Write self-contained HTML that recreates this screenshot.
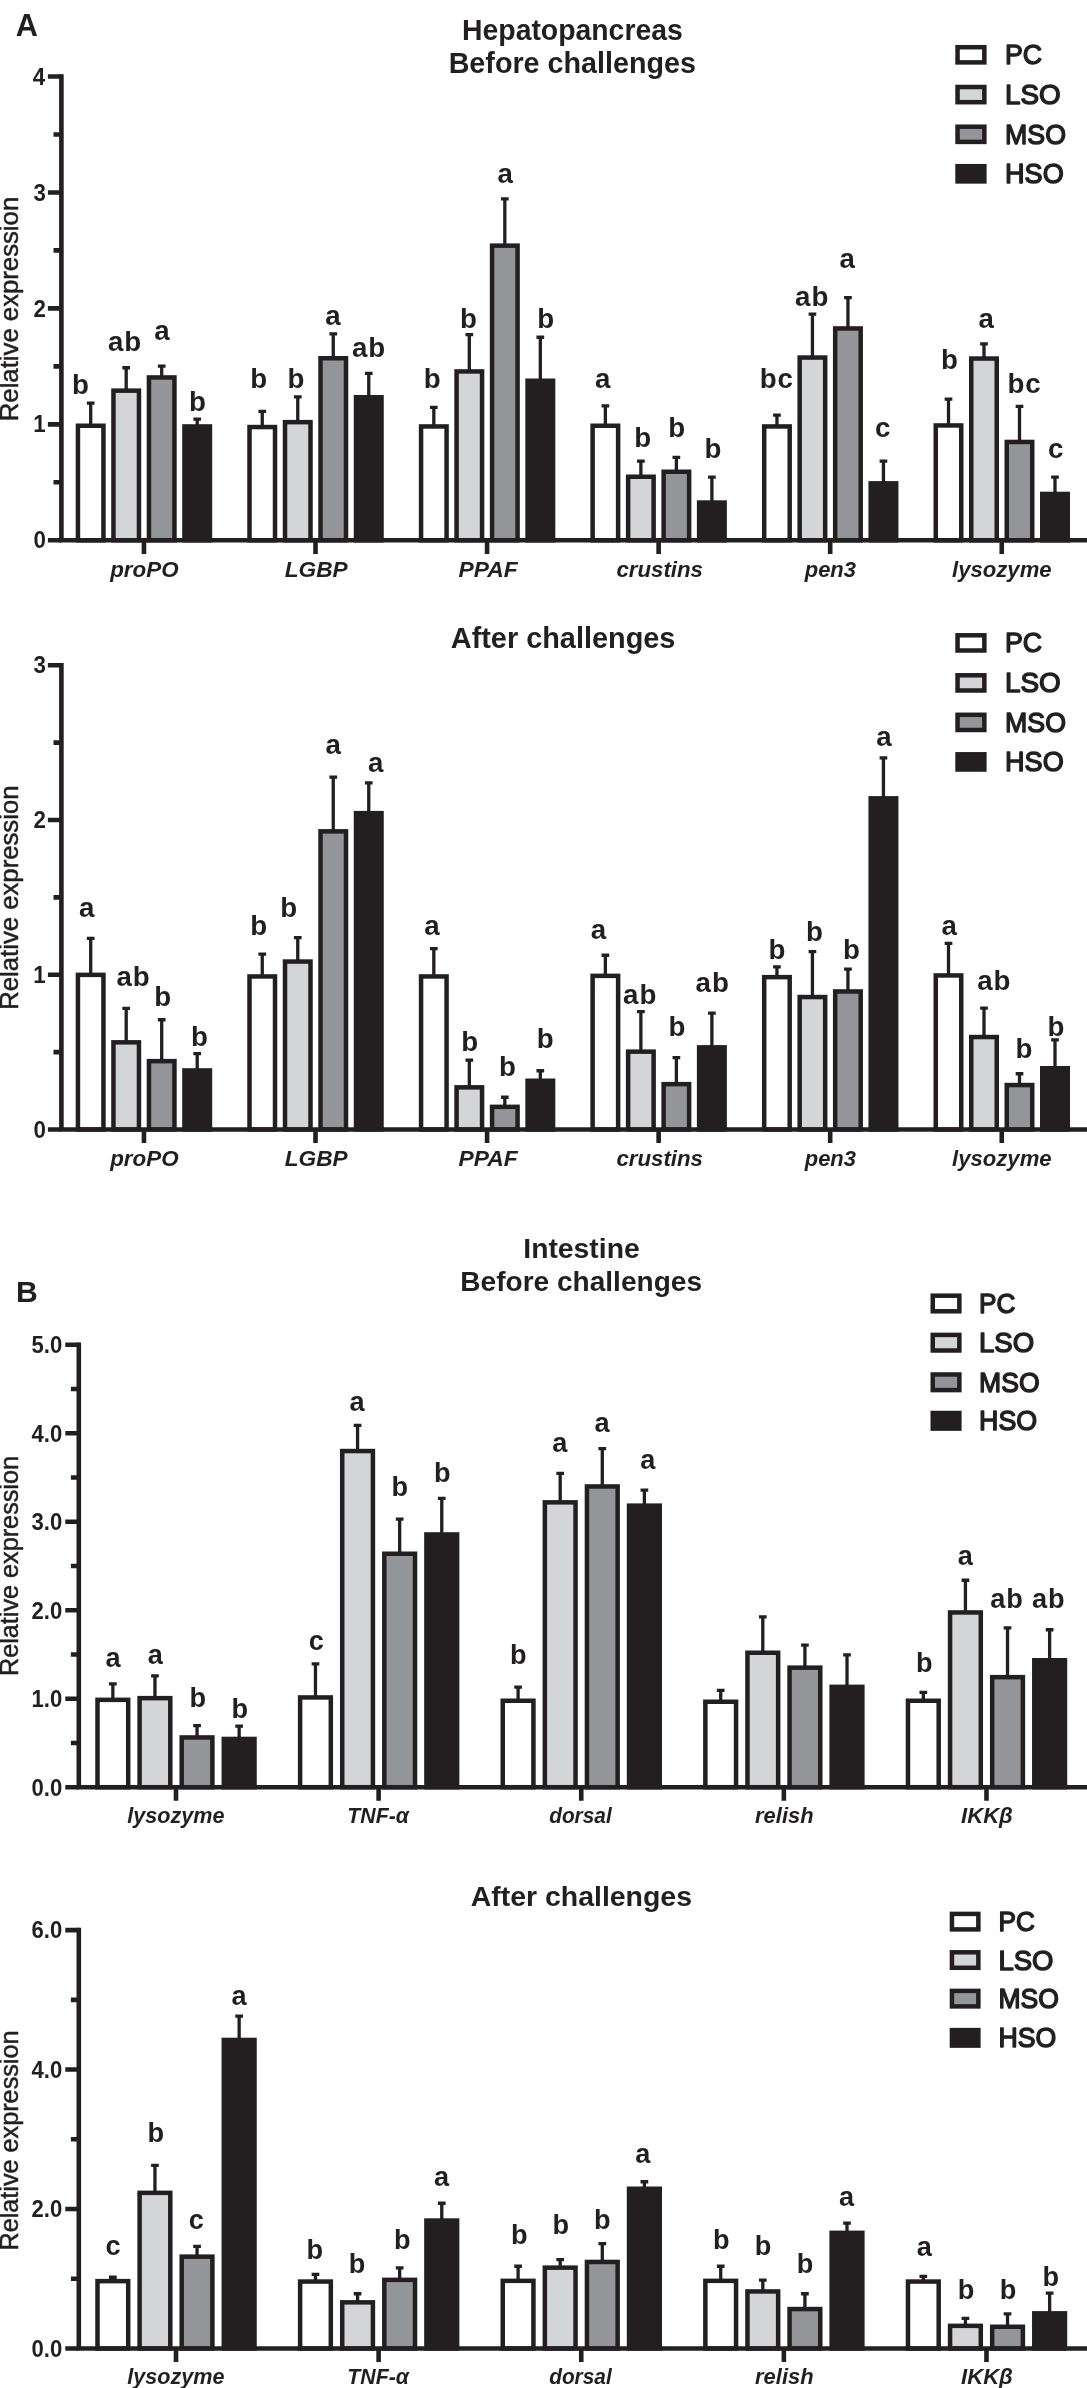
<!DOCTYPE html>
<html><head><meta charset="utf-8"><title>Relative expression</title>
<style>
html,body{margin:0;padding:0;background:#fff;}
body{width:1087px;height:2388px;overflow:hidden;}
svg{display:block;will-change:transform;}
svg text{font-family:"Liberation Sans",sans-serif;fill:#231f20;}
</style></head><body>
<svg width="1087" height="2388" viewBox="0 0 1087 2388">
<rect x="0" y="0" width="1087" height="2388" fill="#ffffff"/>
<g>
<path d="M90.7 425.5V403.15M86.85 403.15H94.55" fill="none" stroke="#231f20" stroke-width="3.3"/>
<rect x="77.95" y="425.75" width="25.5" height="114.55" fill="#ffffff" stroke="#231f20" stroke-width="4.5"/>
<text x="80.5" y="393.5" font-size="27.7" font-weight="bold" text-anchor="middle">b</text>
<path d="M126.2 390.4V367.75M122.35 367.75H130.05" fill="none" stroke="#231f20" stroke-width="3.3"/>
<rect x="113.45" y="390.65" width="25.5" height="149.65" fill="#d4d5d7" stroke="#231f20" stroke-width="4.5"/>
<text x="125.05" y="350.5" font-size="27.7" font-weight="bold" text-anchor="middle" letter-spacing="0.9">ab</text>
<path d="M161.7 377.2V366.05M157.85 366.05H165.55" fill="none" stroke="#231f20" stroke-width="3.3"/>
<rect x="148.95" y="377.45" width="25.5" height="162.85" fill="#939598" stroke="#231f20" stroke-width="4.5"/>
<text x="162" y="339.5" font-size="27.7" font-weight="bold" text-anchor="middle">a</text>
<path d="M197.2 426.2V419.05M193.35 419.05H201.05" fill="none" stroke="#231f20" stroke-width="3.3"/>
<rect x="184.45" y="426.45" width="25.5" height="113.85" fill="#231f20" stroke="#231f20" stroke-width="4.5"/>
<text x="197.4" y="410.8" font-size="27.7" font-weight="bold" text-anchor="middle">b</text>
<path d="M262.26 426.8V411.45M258.41 411.45H266.11" fill="none" stroke="#231f20" stroke-width="3.3"/>
<rect x="249.51" y="427.05" width="25.5" height="113.25" fill="#ffffff" stroke="#231f20" stroke-width="4.5"/>
<text x="258.6" y="387.6" font-size="27.7" font-weight="bold" text-anchor="middle">b</text>
<path d="M297.76 421.9V396.85M293.91 396.85H301.61" fill="none" stroke="#231f20" stroke-width="3.3"/>
<rect x="285.01" y="422.15" width="25.5" height="118.15" fill="#d4d5d7" stroke="#231f20" stroke-width="4.5"/>
<text x="296" y="387.6" font-size="27.7" font-weight="bold" text-anchor="middle">b</text>
<path d="M333.26 358V333.95M329.41 333.95H337.11" fill="none" stroke="#231f20" stroke-width="3.3"/>
<rect x="320.51" y="358.25" width="25.5" height="182.05" fill="#939598" stroke="#231f20" stroke-width="4.5"/>
<text x="333" y="325.3" font-size="27.7" font-weight="bold" text-anchor="middle">a</text>
<path d="M368.76 397V373.35M364.91 373.35H372.61" fill="none" stroke="#231f20" stroke-width="3.3"/>
<rect x="356.01" y="397.25" width="25.5" height="143.05" fill="#231f20" stroke="#231f20" stroke-width="4.5"/>
<text x="369.05" y="356.8" font-size="27.7" font-weight="bold" text-anchor="middle" letter-spacing="0.9">ab</text>
<path d="M433.82 426.2V407.45M429.97 407.45H437.67" fill="none" stroke="#231f20" stroke-width="3.3"/>
<rect x="421.07" y="426.45" width="25.5" height="113.85" fill="#ffffff" stroke="#231f20" stroke-width="4.5"/>
<text x="432.1" y="387.6" font-size="27.7" font-weight="bold" text-anchor="middle">b</text>
<path d="M469.32 371.2V334.65M465.47 334.65H473.17" fill="none" stroke="#231f20" stroke-width="3.3"/>
<rect x="456.57" y="371.45" width="25.5" height="168.85" fill="#d4d5d7" stroke="#231f20" stroke-width="4.5"/>
<text x="468.5" y="328" font-size="27.7" font-weight="bold" text-anchor="middle">b</text>
<path d="M504.82 245.4V198.85M500.97 198.85H508.67" fill="none" stroke="#231f20" stroke-width="3.3"/>
<rect x="492.07" y="245.65" width="25.5" height="294.65" fill="#939598" stroke="#231f20" stroke-width="4.5"/>
<text x="505.3" y="182.9" font-size="27.7" font-weight="bold" text-anchor="middle">a</text>
<path d="M540.32 380.5V337.25M536.47 337.25H544.17" fill="none" stroke="#231f20" stroke-width="3.3"/>
<rect x="527.57" y="380.75" width="25.5" height="159.55" fill="#231f20" stroke="#231f20" stroke-width="4.5"/>
<text x="545.7" y="328" font-size="27.7" font-weight="bold" text-anchor="middle">b</text>
<path d="M605.38 425.5V405.85M601.53 405.85H609.23" fill="none" stroke="#231f20" stroke-width="3.3"/>
<rect x="592.63" y="425.75" width="25.5" height="114.55" fill="#ffffff" stroke="#231f20" stroke-width="4.5"/>
<text x="602.6" y="387.6" font-size="27.7" font-weight="bold" text-anchor="middle">a</text>
<path d="M640.88 476.5V461.15M637.03 461.15H644.73" fill="none" stroke="#231f20" stroke-width="3.3"/>
<rect x="628.13" y="476.75" width="25.5" height="63.55" fill="#d4d5d7" stroke="#231f20" stroke-width="4.5"/>
<text x="642.7" y="446.5" font-size="27.7" font-weight="bold" text-anchor="middle">b</text>
<path d="M676.38 471.5V457.45M672.53 457.45H680.23" fill="none" stroke="#231f20" stroke-width="3.3"/>
<rect x="663.63" y="471.75" width="25.5" height="68.55" fill="#939598" stroke="#231f20" stroke-width="4.5"/>
<text x="676.8" y="436.6" font-size="27.7" font-weight="bold" text-anchor="middle">b</text>
<path d="M711.88 502.3V477.05M708.03 477.05H715.73" fill="none" stroke="#231f20" stroke-width="3.3"/>
<rect x="699.13" y="502.55" width="25.5" height="37.75" fill="#231f20" stroke="#231f20" stroke-width="4.5"/>
<text x="712.9" y="458.1" font-size="27.7" font-weight="bold" text-anchor="middle">b</text>
<path d="M776.94 426.2V415.05M773.09 415.05H780.79" fill="none" stroke="#231f20" stroke-width="3.3"/>
<rect x="764.19" y="426.45" width="25.5" height="113.85" fill="#ffffff" stroke="#231f20" stroke-width="4.5"/>
<text x="776.85" y="387.6" font-size="27.7" font-weight="bold" text-anchor="middle" letter-spacing="0.9">bc</text>
<path d="M812.44 357.3V314.05M808.59 314.05H816.29" fill="none" stroke="#231f20" stroke-width="3.3"/>
<rect x="799.69" y="357.55" width="25.5" height="182.75" fill="#d4d5d7" stroke="#231f20" stroke-width="4.5"/>
<text x="812.15" y="305.8" font-size="27.7" font-weight="bold" text-anchor="middle" letter-spacing="0.9">ab</text>
<path d="M847.94 328.2V297.55M844.09 297.55H851.79" fill="none" stroke="#231f20" stroke-width="3.3"/>
<rect x="835.19" y="328.45" width="25.5" height="211.85" fill="#939598" stroke="#231f20" stroke-width="4.5"/>
<text x="847.2" y="268.3" font-size="27.7" font-weight="bold" text-anchor="middle">a</text>
<path d="M883.44 483.1V461.15M879.59 461.15H887.29" fill="none" stroke="#231f20" stroke-width="3.3"/>
<rect x="870.69" y="483.35" width="25.5" height="56.95" fill="#231f20" stroke="#231f20" stroke-width="4.5"/>
<text x="882.6" y="436.6" font-size="27.7" font-weight="bold" text-anchor="middle">c</text>
<path d="M948.5 425.2V399.15M944.65 399.15H952.35" fill="none" stroke="#231f20" stroke-width="3.3"/>
<rect x="935.75" y="425.45" width="25.5" height="114.85" fill="#ffffff" stroke="#231f20" stroke-width="4.5"/>
<text x="949.5" y="369.3" font-size="27.7" font-weight="bold" text-anchor="middle">b</text>
<path d="M984 358.3V343.85M980.15 343.85H987.85" fill="none" stroke="#231f20" stroke-width="3.3"/>
<rect x="971.25" y="358.55" width="25.5" height="181.75" fill="#d4d5d7" stroke="#231f20" stroke-width="4.5"/>
<text x="986.3" y="328" font-size="27.7" font-weight="bold" text-anchor="middle">a</text>
<path d="M1019.5 441.7V406.45M1015.65 406.45H1023.35" fill="none" stroke="#231f20" stroke-width="3.3"/>
<rect x="1006.75" y="441.95" width="25.5" height="98.35" fill="#939598" stroke="#231f20" stroke-width="4.5"/>
<text x="1024.55" y="392.5" font-size="27.7" font-weight="bold" text-anchor="middle" letter-spacing="0.9">bc</text>
<path d="M1055 493.7V477.05M1051.15 477.05H1058.85" fill="none" stroke="#231f20" stroke-width="3.3"/>
<rect x="1042.25" y="493.95" width="25.5" height="46.35" fill="#231f20" stroke="#231f20" stroke-width="4.5"/>
<text x="1055.8" y="458.1" font-size="27.7" font-weight="bold" text-anchor="middle">c</text>
<path d="M61.4 74.2V540.3H1087" fill="none" stroke="#231f20" stroke-width="4.6"/>
<text transform="translate(33.49 548.44) scale(0.9550 1)" font-size="23.4" font-weight="bold">0</text>
<text transform="translate(33.16 432.49) scale(0.9550 1)" font-size="23.4" font-weight="bold">1</text>
<text transform="translate(33.49 316.54) scale(0.9550 1)" font-size="23.4" font-weight="bold">2</text>
<text transform="translate(33.38 200.59) scale(0.9550 1)" font-size="23.4" font-weight="bold">3</text>
<text transform="translate(32.71 84.64) scale(0.9550 1)" font-size="23.4" font-weight="bold">4</text>
<path d="M61.4 540.3H47.9M61.4 482.32H53.5M61.4 424.35H47.9M61.4 366.38H53.5M61.4 308.4H47.9M61.4 250.42H53.5M61.4 192.45H47.9M61.4 134.48H53.5M61.4 76.5H47.9M143.95 540.3V553.9M315.51 540.3V553.9M487.07 540.3V553.9M658.63 540.3V553.9M830.19 540.3V553.9M1001.75 540.3V553.9" fill="none" stroke="#231f20" stroke-width="4.6"/>
<text transform="translate(110.15 577.2) scale(1.0175 1)" font-size="22" font-weight="bold" font-style="italic">proPO</text>
<text transform="translate(284.75 577.2) scale(1.0310 1)" font-size="22" font-weight="bold" font-style="italic">LGBP</text>
<text transform="translate(458.44 577.2) scale(1.0372 1)" font-size="22" font-weight="bold" font-style="italic">PPAF</text>
<text transform="translate(616.43 577.2) scale(1.0113 1)" font-size="22" font-weight="bold" font-style="italic">crustins</text>
<text transform="translate(804.74 577.2) scale(0.9983 1)" font-size="22" font-weight="bold" font-style="italic">pen3</text>
<text transform="translate(952.07 577.2) scale(1.0049 1)" font-size="22" font-weight="bold" font-style="italic">lysozyme</text>
<text transform="translate(17.5 308.75) rotate(-90) translate(-112.46 0) scale(1.0132 1)" font-size="25.4" font-weight="normal" stroke="#231f20" stroke-width="0.5">Relative expression</text>
<text transform="translate(462.06 39.5) scale(0.9819 1)" font-size="28.9" font-weight="bold">Hepatopancreas</text>
<text transform="translate(448.63 72.6) scale(0.9941 1)" font-size="28.9" font-weight="bold">Before challenges</text>
<rect x="957.55" y="47.2" width="26.8" height="15.2" fill="#ffffff" stroke="#231f20" stroke-width="4.5"/>
<text transform="translate(1005.06 64.2) scale(0.9671 1)" font-size="27.6" font-weight="normal" stroke="#231f20" stroke-width="1.4" stroke-linejoin="round">PC</text>
<rect x="957.55" y="87" width="26.8" height="15.2" fill="#d4d5d7" stroke="#231f20" stroke-width="4.5"/>
<text transform="translate(1004.97 104) scale(1.0106 1)" font-size="27.6" font-weight="normal" stroke="#231f20" stroke-width="1.4" stroke-linejoin="round">LSO</text>
<rect x="957.55" y="126.7" width="26.8" height="15.2" fill="#939598" stroke="#231f20" stroke-width="4.5"/>
<text transform="translate(1005.06 143.7) scale(0.9690 1)" font-size="27.6" font-weight="normal" stroke="#231f20" stroke-width="1.4" stroke-linejoin="round">MSO</text>
<rect x="957.55" y="166.2" width="26.8" height="15.2" fill="#231f20" stroke="#231f20" stroke-width="4.5"/>
<text transform="translate(1005.04 183.2) scale(0.9804 1)" font-size="27.6" font-weight="normal" stroke="#231f20" stroke-width="1.4" stroke-linejoin="round">HSO</text>
</g>
<g>
<path d="M90.7 974.6V938.35M86.85 938.35H94.55" fill="none" stroke="#231f20" stroke-width="3.3"/>
<rect x="77.95" y="974.85" width="25.5" height="154.65" fill="#ffffff" stroke="#231f20" stroke-width="4.5"/>
<text x="86.8" y="917.1" font-size="27.7" font-weight="bold" text-anchor="middle">a</text>
<path d="M126.2 1042.1V1008.45M122.35 1008.45H130.05" fill="none" stroke="#231f20" stroke-width="3.3"/>
<rect x="113.45" y="1042.35" width="25.5" height="87.15" fill="#d4d5d7" stroke="#231f20" stroke-width="4.5"/>
<text x="133.45" y="985.9" font-size="27.7" font-weight="bold" text-anchor="middle" letter-spacing="0.9">ab</text>
<path d="M161.7 1060.9V1019.75M157.85 1019.75H165.55" fill="none" stroke="#231f20" stroke-width="3.3"/>
<rect x="148.95" y="1061.15" width="25.5" height="68.35" fill="#939598" stroke="#231f20" stroke-width="4.5"/>
<text x="162.7" y="1006.4" font-size="27.7" font-weight="bold" text-anchor="middle">b</text>
<path d="M197.2 1070.2V1053.55M193.35 1053.55H201.05" fill="none" stroke="#231f20" stroke-width="3.3"/>
<rect x="184.45" y="1070.45" width="25.5" height="59.05" fill="#231f20" stroke="#231f20" stroke-width="4.5"/>
<text x="199.4" y="1045.9" font-size="27.7" font-weight="bold" text-anchor="middle">b</text>
<path d="M262.26 976.2V954.15M258.41 954.15H266.11" fill="none" stroke="#231f20" stroke-width="3.3"/>
<rect x="249.51" y="976.45" width="25.5" height="153.05" fill="#ffffff" stroke="#231f20" stroke-width="4.5"/>
<text x="258.8" y="935.2" font-size="27.7" font-weight="bold" text-anchor="middle">b</text>
<path d="M297.76 961.3V937.65M293.91 937.65H301.61" fill="none" stroke="#231f20" stroke-width="3.3"/>
<rect x="285.01" y="961.55" width="25.5" height="167.95" fill="#d4d5d7" stroke="#231f20" stroke-width="4.5"/>
<text x="288.6" y="917" font-size="27.7" font-weight="bold" text-anchor="middle">b</text>
<path d="M333.26 831.1V777.05M329.41 777.05H337.11" fill="none" stroke="#231f20" stroke-width="3.3"/>
<rect x="320.51" y="831.35" width="25.5" height="298.15" fill="#939598" stroke="#231f20" stroke-width="4.5"/>
<text x="333.3" y="753.8" font-size="27.7" font-weight="bold" text-anchor="middle">a</text>
<path d="M368.76 812.9V782.95M364.91 782.95H372.61" fill="none" stroke="#231f20" stroke-width="3.3"/>
<rect x="356.01" y="813.15" width="25.5" height="316.35" fill="#231f20" stroke="#231f20" stroke-width="4.5"/>
<text x="375.7" y="772" font-size="27.7" font-weight="bold" text-anchor="middle">a</text>
<path d="M433.82 976.2V948.55M429.97 948.55H437.67" fill="none" stroke="#231f20" stroke-width="3.3"/>
<rect x="421.07" y="976.45" width="25.5" height="153.05" fill="#ffffff" stroke="#231f20" stroke-width="4.5"/>
<text x="432" y="935.2" font-size="27.7" font-weight="bold" text-anchor="middle">a</text>
<path d="M469.32 1087.1V1060.15M465.47 1060.15H473.17" fill="none" stroke="#231f20" stroke-width="3.3"/>
<rect x="456.57" y="1087.35" width="25.5" height="42.15" fill="#d4d5d7" stroke="#231f20" stroke-width="4.5"/>
<text x="469.7" y="1051.1" font-size="27.7" font-weight="bold" text-anchor="middle">b</text>
<path d="M504.82 1106.6V1097.25M500.97 1097.25H508.67" fill="none" stroke="#231f20" stroke-width="3.3"/>
<rect x="492.07" y="1106.85" width="25.5" height="22.65" fill="#939598" stroke="#231f20" stroke-width="4.5"/>
<text x="507.5" y="1076" font-size="27.7" font-weight="bold" text-anchor="middle">b</text>
<path d="M540.32 1080.5V1070.75M536.47 1070.75H544.17" fill="none" stroke="#231f20" stroke-width="3.3"/>
<rect x="527.57" y="1080.75" width="25.5" height="48.75" fill="#231f20" stroke="#231f20" stroke-width="4.5"/>
<text x="545.2" y="1047.8" font-size="27.7" font-weight="bold" text-anchor="middle">b</text>
<path d="M605.38 975.6V955.25M601.53 955.25H609.23" fill="none" stroke="#231f20" stroke-width="3.3"/>
<rect x="592.63" y="975.85" width="25.5" height="153.65" fill="#ffffff" stroke="#231f20" stroke-width="4.5"/>
<text x="598.5" y="938.6" font-size="27.7" font-weight="bold" text-anchor="middle">a</text>
<path d="M640.88 1051.4V1011.55M637.03 1011.55H644.73" fill="none" stroke="#231f20" stroke-width="3.3"/>
<rect x="628.13" y="1051.65" width="25.5" height="77.85" fill="#d4d5d7" stroke="#231f20" stroke-width="4.5"/>
<text x="640.15" y="1003.9" font-size="27.7" font-weight="bold" text-anchor="middle" letter-spacing="0.9">ab</text>
<path d="M676.38 1083.9V1057.55M672.53 1057.55H680.23" fill="none" stroke="#231f20" stroke-width="3.3"/>
<rect x="663.63" y="1084.15" width="25.5" height="45.35" fill="#939598" stroke="#231f20" stroke-width="4.5"/>
<text x="677" y="1036.3" font-size="27.7" font-weight="bold" text-anchor="middle">b</text>
<path d="M711.88 1047.1V1013.15M708.03 1013.15H715.73" fill="none" stroke="#231f20" stroke-width="3.3"/>
<rect x="699.13" y="1047.35" width="25.5" height="82.15" fill="#231f20" stroke="#231f20" stroke-width="4.5"/>
<text x="712.65" y="991.6" font-size="27.7" font-weight="bold" text-anchor="middle" letter-spacing="0.9">ab</text>
<path d="M776.94 976.9V966.85M773.09 966.85H780.79" fill="none" stroke="#231f20" stroke-width="3.3"/>
<rect x="764.19" y="977.15" width="25.5" height="152.35" fill="#ffffff" stroke="#231f20" stroke-width="4.5"/>
<text x="777" y="959.2" font-size="27.7" font-weight="bold" text-anchor="middle">b</text>
<path d="M812.44 996.8V951.55M808.59 951.55H816.29" fill="none" stroke="#231f20" stroke-width="3.3"/>
<rect x="799.69" y="997.05" width="25.5" height="132.45" fill="#d4d5d7" stroke="#231f20" stroke-width="4.5"/>
<text x="814.4" y="940.9" font-size="27.7" font-weight="bold" text-anchor="middle">b</text>
<path d="M847.94 991.2V969.15M844.09 969.15H851.79" fill="none" stroke="#231f20" stroke-width="3.3"/>
<rect x="835.19" y="991.45" width="25.5" height="138.05" fill="#939598" stroke="#231f20" stroke-width="4.5"/>
<text x="851.5" y="959.2" font-size="27.7" font-weight="bold" text-anchor="middle">b</text>
<path d="M883.44 798.1V757.85M879.59 757.85H887.29" fill="none" stroke="#231f20" stroke-width="3.3"/>
<rect x="870.69" y="798.35" width="25.5" height="331.15" fill="#231f20" stroke="#231f20" stroke-width="4.5"/>
<text x="884" y="745.5" font-size="27.7" font-weight="bold" text-anchor="middle">a</text>
<path d="M948.5 975.2V943.45M944.65 943.45H952.35" fill="none" stroke="#231f20" stroke-width="3.3"/>
<rect x="935.75" y="975.45" width="25.5" height="154.05" fill="#ffffff" stroke="#231f20" stroke-width="4.5"/>
<text x="949.2" y="935.1" font-size="27.7" font-weight="bold" text-anchor="middle">a</text>
<path d="M984 1036.8V1008.05M980.15 1008.05H987.85" fill="none" stroke="#231f20" stroke-width="3.3"/>
<rect x="971.25" y="1037.05" width="25.5" height="92.45" fill="#d4d5d7" stroke="#231f20" stroke-width="4.5"/>
<text x="994.35" y="990.1" font-size="27.7" font-weight="bold" text-anchor="middle" letter-spacing="0.9">ab</text>
<path d="M1019.5 1084.8V1073.75M1015.65 1073.75H1023.35" fill="none" stroke="#231f20" stroke-width="3.3"/>
<rect x="1006.75" y="1085.05" width="25.5" height="44.45" fill="#939598" stroke="#231f20" stroke-width="4.5"/>
<text x="1024" y="1058" font-size="27.7" font-weight="bold" text-anchor="middle">b</text>
<path d="M1055 1068V1039.85M1051.15 1039.85H1058.85" fill="none" stroke="#231f20" stroke-width="3.3"/>
<rect x="1042.25" y="1068.25" width="25.5" height="61.25" fill="#231f20" stroke="#231f20" stroke-width="4.5"/>
<text x="1056" y="1035.6" font-size="27.7" font-weight="bold" text-anchor="middle">b</text>
<path d="M61.4 663V1129.5H1087" fill="none" stroke="#231f20" stroke-width="4.6"/>
<text transform="translate(33.49 1137.64) scale(0.9550 1)" font-size="23.4" font-weight="bold">0</text>
<text transform="translate(33.16 982.91) scale(0.9550 1)" font-size="23.4" font-weight="bold">1</text>
<text transform="translate(33.49 828.18) scale(0.9550 1)" font-size="23.4" font-weight="bold">2</text>
<text transform="translate(33.38 673.44) scale(0.9550 1)" font-size="23.4" font-weight="bold">3</text>
<path d="M61.4 1129.5H47.9M61.4 1052.13H53.5M61.4 974.77H47.9M61.4 897.4H53.5M61.4 820.03H47.9M61.4 742.67H53.5M61.4 665.3H47.9M143.95 1129.5V1143.1M315.51 1129.5V1143.1M487.07 1129.5V1143.1M658.63 1129.5V1143.1M830.19 1129.5V1143.1M1001.75 1129.5V1143.1" fill="none" stroke="#231f20" stroke-width="4.6"/>
<text transform="translate(110.15 1166.4) scale(1.0175 1)" font-size="22" font-weight="bold" font-style="italic">proPO</text>
<text transform="translate(284.75 1166.4) scale(1.0310 1)" font-size="22" font-weight="bold" font-style="italic">LGBP</text>
<text transform="translate(458.44 1166.4) scale(1.0372 1)" font-size="22" font-weight="bold" font-style="italic">PPAF</text>
<text transform="translate(616.43 1166.4) scale(1.0113 1)" font-size="22" font-weight="bold" font-style="italic">crustins</text>
<text transform="translate(804.74 1166.4) scale(0.9983 1)" font-size="22" font-weight="bold" font-style="italic">pen3</text>
<text transform="translate(952.07 1166.4) scale(1.0049 1)" font-size="22" font-weight="bold" font-style="italic">lysozyme</text>
<text transform="translate(17.5 897.4) rotate(-90) translate(-112.46 0) scale(1.0132 1)" font-size="25.4" font-weight="normal" stroke="#231f20" stroke-width="0.5">Relative expression</text>
<text transform="translate(450.78 648) scale(0.9997 1)" font-size="28.9" font-weight="bold">After challenges</text>
<rect x="957.55" y="635.3" width="26.8" height="15.2" fill="#ffffff" stroke="#231f20" stroke-width="4.5"/>
<text transform="translate(1005.06 652.3) scale(0.9671 1)" font-size="27.6" font-weight="normal" stroke="#231f20" stroke-width="1.4" stroke-linejoin="round">PC</text>
<rect x="957.55" y="675.3" width="26.8" height="15.2" fill="#d4d5d7" stroke="#231f20" stroke-width="4.5"/>
<text transform="translate(1004.97 692.3) scale(1.0106 1)" font-size="27.6" font-weight="normal" stroke="#231f20" stroke-width="1.4" stroke-linejoin="round">LSO</text>
<rect x="957.55" y="714.8" width="26.8" height="15.2" fill="#939598" stroke="#231f20" stroke-width="4.5"/>
<text transform="translate(1005.06 731.8) scale(0.9690 1)" font-size="27.6" font-weight="normal" stroke="#231f20" stroke-width="1.4" stroke-linejoin="round">MSO</text>
<rect x="957.55" y="754.3" width="26.8" height="15.2" fill="#231f20" stroke="#231f20" stroke-width="4.5"/>
<text transform="translate(1005.04 771.3) scale(0.9804 1)" font-size="27.6" font-weight="normal" stroke="#231f20" stroke-width="1.4" stroke-linejoin="round">HSO</text>
</g>
<g>
<path d="M112.85 1699.6V1683.95M109 1683.95H116.7" fill="none" stroke="#231f20" stroke-width="3.3"/>
<rect x="97.5" y="1699.85" width="30.7" height="87.35" fill="#ffffff" stroke="#231f20" stroke-width="4.5"/>
<text x="113.1" y="1667.1" font-size="27.15" font-weight="bold" text-anchor="middle">a</text>
<path d="M154.95 1697.9V1675.95M151.1 1675.95H158.8" fill="none" stroke="#231f20" stroke-width="3.3"/>
<rect x="139.6" y="1698.15" width="30.7" height="89.05" fill="#d4d5d7" stroke="#231f20" stroke-width="4.5"/>
<text x="155.2" y="1663.6" font-size="27.15" font-weight="bold" text-anchor="middle">a</text>
<path d="M197.05 1737.2V1725.55M193.2 1725.55H200.9" fill="none" stroke="#231f20" stroke-width="3.3"/>
<rect x="181.7" y="1737.45" width="30.7" height="49.75" fill="#939598" stroke="#231f20" stroke-width="4.5"/>
<text x="197.7" y="1706.6" font-size="27.15" font-weight="bold" text-anchor="middle">b</text>
<path d="M239.15 1738.7V1726.05M235.3 1726.05H243" fill="none" stroke="#231f20" stroke-width="3.3"/>
<rect x="223.8" y="1738.95" width="30.7" height="48.25" fill="#231f20" stroke="#231f20" stroke-width="4.5"/>
<text x="239.7" y="1717.9" font-size="27.15" font-weight="bold" text-anchor="middle">b</text>
<path d="M315.47 1697.2V1663.95M311.62 1663.95H319.32" fill="none" stroke="#231f20" stroke-width="3.3"/>
<rect x="300.12" y="1697.45" width="30.7" height="89.75" fill="#ffffff" stroke="#231f20" stroke-width="4.5"/>
<text x="316.3" y="1649.7" font-size="27.15" font-weight="bold" text-anchor="middle">c</text>
<path d="M357.57 1450.8V1425.45M353.72 1425.45H361.42" fill="none" stroke="#231f20" stroke-width="3.3"/>
<rect x="342.22" y="1451.05" width="30.7" height="336.15" fill="#d4d5d7" stroke="#231f20" stroke-width="4.5"/>
<text x="357" y="1410.5" font-size="27.15" font-weight="bold" text-anchor="middle">a</text>
<path d="M399.67 1553.5V1519.15M395.82 1519.15H403.52" fill="none" stroke="#231f20" stroke-width="3.3"/>
<rect x="384.32" y="1553.75" width="30.7" height="233.45" fill="#939598" stroke="#231f20" stroke-width="4.5"/>
<text x="399.8" y="1496.3" font-size="27.15" font-weight="bold" text-anchor="middle">b</text>
<path d="M441.77 1534.2V1498.35M437.92 1498.35H445.62" fill="none" stroke="#231f20" stroke-width="3.3"/>
<rect x="426.42" y="1534.45" width="30.7" height="252.75" fill="#231f20" stroke="#231f20" stroke-width="4.5"/>
<text x="442.2" y="1482.4" font-size="27.15" font-weight="bold" text-anchor="middle">b</text>
<path d="M518.09 1700.5V1687.15M514.24 1687.15H521.94" fill="none" stroke="#231f20" stroke-width="3.3"/>
<rect x="502.74" y="1700.75" width="30.7" height="86.45" fill="#ffffff" stroke="#231f20" stroke-width="4.5"/>
<text x="518.4" y="1663.6" font-size="27.15" font-weight="bold" text-anchor="middle">b</text>
<path d="M560.19 1502.1V1473.45M556.34 1473.45H564.04" fill="none" stroke="#231f20" stroke-width="3.3"/>
<rect x="544.84" y="1502.35" width="30.7" height="284.85" fill="#d4d5d7" stroke="#231f20" stroke-width="4.5"/>
<text x="559.8" y="1451.9" font-size="27.15" font-weight="bold" text-anchor="middle">a</text>
<path d="M602.29 1486.2V1448.65M598.44 1448.65H606.14" fill="none" stroke="#231f20" stroke-width="3.3"/>
<rect x="586.94" y="1486.45" width="30.7" height="300.75" fill="#939598" stroke="#231f20" stroke-width="4.5"/>
<text x="602.1" y="1432" font-size="27.15" font-weight="bold" text-anchor="middle">a</text>
<path d="M644.39 1505.4V1490.05M640.54 1490.05H648.24" fill="none" stroke="#231f20" stroke-width="3.3"/>
<rect x="629.04" y="1505.65" width="30.7" height="281.55" fill="#231f20" stroke="#231f20" stroke-width="4.5"/>
<text x="647.8" y="1468.5" font-size="27.15" font-weight="bold" text-anchor="middle">a</text>
<path d="M720.71 1701.5V1690.45M716.86 1690.45H724.56" fill="none" stroke="#231f20" stroke-width="3.3"/>
<rect x="705.36" y="1701.75" width="30.7" height="85.45" fill="#ffffff" stroke="#231f20" stroke-width="4.5"/>
<path d="M762.81 1652.5V1616.85M758.96 1616.85H766.66" fill="none" stroke="#231f20" stroke-width="3.3"/>
<rect x="747.46" y="1652.75" width="30.7" height="134.45" fill="#d4d5d7" stroke="#231f20" stroke-width="4.5"/>
<path d="M804.91 1667.4V1645.05M801.06 1645.05H808.76" fill="none" stroke="#231f20" stroke-width="3.3"/>
<rect x="789.56" y="1667.65" width="30.7" height="119.55" fill="#939598" stroke="#231f20" stroke-width="4.5"/>
<path d="M847.01 1686.6V1654.95M843.16 1654.95H850.86" fill="none" stroke="#231f20" stroke-width="3.3"/>
<rect x="831.66" y="1686.85" width="30.7" height="100.35" fill="#231f20" stroke="#231f20" stroke-width="4.5"/>
<path d="M923.33 1700.5V1692.35M919.48 1692.35H927.18" fill="none" stroke="#231f20" stroke-width="3.3"/>
<rect x="907.98" y="1700.75" width="30.7" height="86.45" fill="#ffffff" stroke="#231f20" stroke-width="4.5"/>
<text x="924.4" y="1671.5" font-size="27.15" font-weight="bold" text-anchor="middle">b</text>
<path d="M965.43 1612.2V1580.25M961.58 1580.25H969.28" fill="none" stroke="#231f20" stroke-width="3.3"/>
<rect x="950.08" y="1612.45" width="30.7" height="174.75" fill="#d4d5d7" stroke="#231f20" stroke-width="4.5"/>
<text x="965.2" y="1565.3" font-size="27.15" font-weight="bold" text-anchor="middle">a</text>
<path d="M1007.53 1676.9V1627.95M1003.68 1627.95H1011.38" fill="none" stroke="#231f20" stroke-width="3.3"/>
<rect x="992.18" y="1677.15" width="30.7" height="110.05" fill="#939598" stroke="#231f20" stroke-width="4.5"/>
<text x="1007.05" y="1608.3" font-size="27.15" font-weight="bold" text-anchor="middle" letter-spacing="0.9">ab</text>
<path d="M1049.63 1660V1629.75M1045.78 1629.75H1053.48" fill="none" stroke="#231f20" stroke-width="3.3"/>
<rect x="1034.28" y="1660.25" width="30.7" height="126.95" fill="#231f20" stroke="#231f20" stroke-width="4.5"/>
<text x="1048.85" y="1608.3" font-size="27.15" font-weight="bold" text-anchor="middle" letter-spacing="0.9">ab</text>
<path d="M78.8 1342.4V1787.2H1087" fill="none" stroke="#231f20" stroke-width="4.6"/>
<text transform="translate(31.55 1795.52) scale(0.9250 1)" font-size="23.9" font-weight="bold">0.0</text>
<text transform="translate(31.55 1707.02) scale(0.9250 1)" font-size="23.9" font-weight="bold">1.0</text>
<text transform="translate(31.55 1618.52) scale(0.9250 1)" font-size="23.9" font-weight="bold">2.0</text>
<text transform="translate(31.55 1530.02) scale(0.9250 1)" font-size="23.9" font-weight="bold">3.0</text>
<text transform="translate(31.55 1441.52) scale(0.9250 1)" font-size="23.9" font-weight="bold">4.0</text>
<text transform="translate(31.55 1353.02) scale(0.9250 1)" font-size="23.9" font-weight="bold">5.0</text>
<path d="M78.8 1787.2H65.3M78.8 1742.95H70.9M78.8 1698.7H65.3M78.8 1654.45H70.9M78.8 1610.2H65.3M78.8 1565.95H70.9M78.8 1521.7H65.3M78.8 1477.45H70.9M78.8 1433.2H65.3M78.8 1388.95H70.9M78.8 1344.7H65.3M176 1787.2V1800.8M378.62 1787.2V1800.8M581.24 1787.2V1800.8M783.86 1787.2V1800.8M986.48 1787.2V1800.8" fill="none" stroke="#231f20" stroke-width="4.6"/>
<text transform="translate(127.28 1823) scale(0.9480 1)" font-size="22.8" font-weight="bold" font-style="italic">lysozyme</text>
<text transform="translate(347.31 1823) scale(0.9339 1)" font-size="22.8" font-weight="bold" font-style="italic">TNF-&#945;</text>
<text transform="translate(549.17 1823) scale(0.9139 1)" font-size="22.8" font-weight="bold" font-style="italic">dorsal</text>
<text transform="translate(755.07 1823) scale(0.9629 1)" font-size="22.8" font-weight="bold" font-style="italic">relish</text>
<text transform="translate(961.06 1823) scale(0.9691 1)" font-size="22.8" font-weight="bold" font-style="italic">IKK&#946;</text>
<text transform="translate(17.5 1565.8) rotate(-90) translate(-110.2 0) scale(1.0131 1)" font-size="24.89" font-weight="normal" stroke="#231f20" stroke-width="0.5">Relative expression</text>
<text transform="translate(523.26 1258.1) scale(1.0003 1)" font-size="28.32" font-weight="bold">Intestine</text>
<text transform="translate(460.28 1290.5) scale(0.9912 1)" font-size="28.32" font-weight="bold">Before challenges</text>
<rect x="932.75" y="1295.7" width="26.6" height="15.6" fill="#ffffff" stroke="#231f20" stroke-width="4.5"/>
<text transform="translate(979.11 1313.1) scale(0.9665 1)" font-size="27.05" font-weight="normal" stroke="#231f20" stroke-width="1.4" stroke-linejoin="round">PC</text>
<rect x="932.75" y="1334.9" width="26.6" height="15.6" fill="#d4d5d7" stroke="#231f20" stroke-width="4.5"/>
<text transform="translate(978.99 1352.3) scale(1.0194 1)" font-size="27.05" font-weight="normal" stroke="#231f20" stroke-width="1.4" stroke-linejoin="round">LSO</text>
<rect x="932.75" y="1374.5" width="26.6" height="15.6" fill="#939598" stroke="#231f20" stroke-width="4.5"/>
<text transform="translate(979.07 1391.9) scale(0.9836 1)" font-size="27.05" font-weight="normal" stroke="#231f20" stroke-width="1.4" stroke-linejoin="round">MSO</text>
<rect x="932.75" y="1413" width="26.6" height="15.6" fill="#231f20" stroke="#231f20" stroke-width="4.5"/>
<text transform="translate(979.05 1430.4) scale(0.9913 1)" font-size="27.05" font-weight="normal" stroke="#231f20" stroke-width="1.4" stroke-linejoin="round">HSO</text>
</g>
<g>
<path d="M112.85 2280.9V2277.25M109 2277.25H116.7" fill="none" stroke="#231f20" stroke-width="3.3"/>
<rect x="97.5" y="2281.15" width="30.7" height="67.35" fill="#ffffff" stroke="#231f20" stroke-width="4.5"/>
<text x="113.1" y="2254.7" font-size="27.15" font-weight="bold" text-anchor="middle">c</text>
<path d="M154.95 2192.6V2165.45M151.1 2165.45H158.8" fill="none" stroke="#231f20" stroke-width="3.3"/>
<rect x="139.6" y="2192.85" width="30.7" height="155.65" fill="#d4d5d7" stroke="#231f20" stroke-width="4.5"/>
<text x="155.9" y="2141.5" font-size="27.15" font-weight="bold" text-anchor="middle">b</text>
<path d="M197.05 2256.4V2246.45M193.2 2246.45H200.9" fill="none" stroke="#231f20" stroke-width="3.3"/>
<rect x="181.7" y="2256.65" width="30.7" height="91.85" fill="#939598" stroke="#231f20" stroke-width="4.5"/>
<text x="196.4" y="2228.6" font-size="27.15" font-weight="bold" text-anchor="middle">c</text>
<path d="M239.15 2039.7V2016.05M235.3 2016.05H243" fill="none" stroke="#231f20" stroke-width="3.3"/>
<rect x="223.8" y="2039.95" width="30.7" height="308.55" fill="#231f20" stroke="#231f20" stroke-width="4.5"/>
<text x="239" y="2005.4" font-size="27.15" font-weight="bold" text-anchor="middle">a</text>
<path d="M315.47 2281.3V2274.45M311.62 2274.45H319.32" fill="none" stroke="#231f20" stroke-width="3.3"/>
<rect x="300.12" y="2281.55" width="30.7" height="66.95" fill="#ffffff" stroke="#231f20" stroke-width="4.5"/>
<text x="314.7" y="2258.6" font-size="27.15" font-weight="bold" text-anchor="middle">b</text>
<path d="M357.57 2302.1V2293.75M353.72 2293.75H361.42" fill="none" stroke="#231f20" stroke-width="3.3"/>
<rect x="342.22" y="2302.35" width="30.7" height="46.15" fill="#d4d5d7" stroke="#231f20" stroke-width="4.5"/>
<text x="357" y="2272.8" font-size="27.15" font-weight="bold" text-anchor="middle">b</text>
<path d="M399.67 2279.6V2267.85M395.82 2267.85H403.52" fill="none" stroke="#231f20" stroke-width="3.3"/>
<rect x="384.32" y="2279.85" width="30.7" height="68.65" fill="#939598" stroke="#231f20" stroke-width="4.5"/>
<text x="402.4" y="2248.7" font-size="27.15" font-weight="bold" text-anchor="middle">b</text>
<path d="M441.77 2220.3V2203.25M437.92 2203.25H445.62" fill="none" stroke="#231f20" stroke-width="3.3"/>
<rect x="426.42" y="2220.55" width="30.7" height="127.95" fill="#231f20" stroke="#231f20" stroke-width="4.5"/>
<text x="441.5" y="2185.7" font-size="27.15" font-weight="bold" text-anchor="middle">a</text>
<path d="M518.09 2280.6V2266.25M514.24 2266.25H521.94" fill="none" stroke="#231f20" stroke-width="3.3"/>
<rect x="502.74" y="2280.85" width="30.7" height="67.65" fill="#ffffff" stroke="#231f20" stroke-width="4.5"/>
<text x="519.4" y="2243.7" font-size="27.15" font-weight="bold" text-anchor="middle">b</text>
<path d="M560.19 2267.4V2259.55M556.34 2259.55H564.04" fill="none" stroke="#231f20" stroke-width="3.3"/>
<rect x="544.84" y="2267.65" width="30.7" height="80.85" fill="#d4d5d7" stroke="#231f20" stroke-width="4.5"/>
<text x="560.8" y="2233.7" font-size="27.15" font-weight="bold" text-anchor="middle">b</text>
<path d="M602.29 2261.7V2243.65M598.44 2243.65H606.14" fill="none" stroke="#231f20" stroke-width="3.3"/>
<rect x="586.94" y="2261.95" width="30.7" height="86.55" fill="#939598" stroke="#231f20" stroke-width="4.5"/>
<text x="602.2" y="2228.8" font-size="27.15" font-weight="bold" text-anchor="middle">b</text>
<path d="M644.39 2188.5V2181.75M640.54 2181.75H648.24" fill="none" stroke="#231f20" stroke-width="3.3"/>
<rect x="629.04" y="2188.75" width="30.7" height="159.75" fill="#231f20" stroke="#231f20" stroke-width="4.5"/>
<text x="642.8" y="2162.5" font-size="27.15" font-weight="bold" text-anchor="middle">a</text>
<path d="M720.71 2280.6V2266.25M716.86 2266.25H724.56" fill="none" stroke="#231f20" stroke-width="3.3"/>
<rect x="705.36" y="2280.85" width="30.7" height="67.65" fill="#ffffff" stroke="#231f20" stroke-width="4.5"/>
<text x="721.3" y="2248.7" font-size="27.15" font-weight="bold" text-anchor="middle">b</text>
<path d="M762.81 2291.2V2280.15M758.96 2280.15H766.66" fill="none" stroke="#231f20" stroke-width="3.3"/>
<rect x="747.46" y="2291.45" width="30.7" height="57.05" fill="#d4d5d7" stroke="#231f20" stroke-width="4.5"/>
<text x="763" y="2254.6" font-size="27.15" font-weight="bold" text-anchor="middle">b</text>
<path d="M804.91 2308.8V2293.75M801.06 2293.75H808.76" fill="none" stroke="#231f20" stroke-width="3.3"/>
<rect x="789.56" y="2309.05" width="30.7" height="39.45" fill="#939598" stroke="#231f20" stroke-width="4.5"/>
<text x="805.1" y="2272.5" font-size="27.15" font-weight="bold" text-anchor="middle">b</text>
<path d="M847.01 2232.6V2223.15M843.16 2223.15H850.86" fill="none" stroke="#231f20" stroke-width="3.3"/>
<rect x="831.66" y="2232.85" width="30.7" height="115.65" fill="#231f20" stroke="#231f20" stroke-width="4.5"/>
<text x="846.5" y="2206.2" font-size="27.15" font-weight="bold" text-anchor="middle">a</text>
<path d="M923.33 2281.3V2276.45M919.48 2276.45H927.18" fill="none" stroke="#231f20" stroke-width="3.3"/>
<rect x="907.98" y="2281.55" width="30.7" height="66.95" fill="#ffffff" stroke="#231f20" stroke-width="4.5"/>
<text x="924.4" y="2255.9" font-size="27.15" font-weight="bold" text-anchor="middle">a</text>
<path d="M965.43 2325.6V2318.45M961.58 2318.45H969.28" fill="none" stroke="#231f20" stroke-width="3.3"/>
<rect x="950.08" y="2325.85" width="30.7" height="22.65" fill="#d4d5d7" stroke="#231f20" stroke-width="4.5"/>
<text x="966.1" y="2299.2" font-size="27.15" font-weight="bold" text-anchor="middle">b</text>
<path d="M1007.53 2326.5V2313.85M1003.68 2313.85H1011.38" fill="none" stroke="#231f20" stroke-width="3.3"/>
<rect x="992.18" y="2326.75" width="30.7" height="21.75" fill="#939598" stroke="#231f20" stroke-width="4.5"/>
<text x="1008.1" y="2299.2" font-size="27.15" font-weight="bold" text-anchor="middle">b</text>
<path d="M1049.63 2313.1V2293.15M1045.78 2293.15H1053.48" fill="none" stroke="#231f20" stroke-width="3.3"/>
<rect x="1034.28" y="2313.35" width="30.7" height="35.15" fill="#231f20" stroke="#231f20" stroke-width="4.5"/>
<text x="1050.8" y="2285.6" font-size="27.15" font-weight="bold" text-anchor="middle">b</text>
<path d="M78.8 1927.8V2348.5H1087" fill="none" stroke="#231f20" stroke-width="4.6"/>
<text transform="translate(31.55 2356.82) scale(0.9250 1)" font-size="23.9" font-weight="bold">0.0</text>
<text transform="translate(31.55 2217.35) scale(0.9250 1)" font-size="23.9" font-weight="bold">2.0</text>
<text transform="translate(31.55 2077.88) scale(0.9250 1)" font-size="23.9" font-weight="bold">4.0</text>
<text transform="translate(31.55 1938.42) scale(0.9250 1)" font-size="23.9" font-weight="bold">6.0</text>
<path d="M78.8 2348.5H65.3M78.8 2278.77H70.9M78.8 2209.03H65.3M78.8 2139.3H70.9M78.8 2069.57H65.3M78.8 1999.83H70.9M78.8 1930.1H65.3M176 2348.5V2362.1M378.62 2348.5V2362.1M581.24 2348.5V2362.1M783.86 2348.5V2362.1M986.48 2348.5V2362.1" fill="none" stroke="#231f20" stroke-width="4.6"/>
<text transform="translate(127.28 2384.3) scale(0.9480 1)" font-size="22.8" font-weight="bold" font-style="italic">lysozyme</text>
<text transform="translate(347.31 2384.3) scale(0.9339 1)" font-size="22.8" font-weight="bold" font-style="italic">TNF-&#945;</text>
<text transform="translate(549.17 2384.3) scale(0.9139 1)" font-size="22.8" font-weight="bold" font-style="italic">dorsal</text>
<text transform="translate(755.07 2384.3) scale(0.9629 1)" font-size="22.8" font-weight="bold" font-style="italic">relish</text>
<text transform="translate(961.06 2384.3) scale(0.9691 1)" font-size="22.8" font-weight="bold" font-style="italic">IKK&#946;</text>
<text transform="translate(17.5 2140.3) rotate(-90) translate(-110.2 0) scale(1.0131 1)" font-size="24.89" font-weight="normal" stroke="#231f20" stroke-width="0.5">Relative expression</text>
<text transform="translate(470.69 1906.4) scale(1.0050 1)" font-size="28.32" font-weight="bold">After challenges</text>
<rect x="951.95" y="1913.9" width="26.4" height="15.5" fill="#ffffff" stroke="#231f20" stroke-width="4.5"/>
<text transform="translate(998.51 1931.2) scale(0.9665 1)" font-size="27.05" font-weight="normal" stroke="#231f20" stroke-width="1.4" stroke-linejoin="round">PC</text>
<rect x="951.95" y="1952.3" width="26.4" height="15.5" fill="#d4d5d7" stroke="#231f20" stroke-width="4.5"/>
<text transform="translate(998.4 1969.6) scale(1.0175 1)" font-size="27.05" font-weight="normal" stroke="#231f20" stroke-width="1.4" stroke-linejoin="round">LSO</text>
<rect x="951.95" y="1990.9" width="26.4" height="15.5" fill="#939598" stroke="#231f20" stroke-width="4.5"/>
<text transform="translate(998.48 2008.2) scale(0.9819 1)" font-size="27.05" font-weight="normal" stroke="#231f20" stroke-width="1.4" stroke-linejoin="round">MSO</text>
<rect x="951.95" y="2030.1" width="26.4" height="15.5" fill="#231f20" stroke="#231f20" stroke-width="4.5"/>
<text transform="translate(998.47 2047.4) scale(0.9859 1)" font-size="27.05" font-weight="normal" stroke="#231f20" stroke-width="1.4" stroke-linejoin="round">HSO</text>
</g>
<text transform="translate(15.63 35.9) scale(1.0048 1)" font-size="30.6" font-weight="bold" fill="#000">A</text>
<text transform="translate(16.04 1301.9) scale(1.0225 1)" font-size="29.5" font-weight="bold" fill="#000">B</text>
</svg>
</body></html>
